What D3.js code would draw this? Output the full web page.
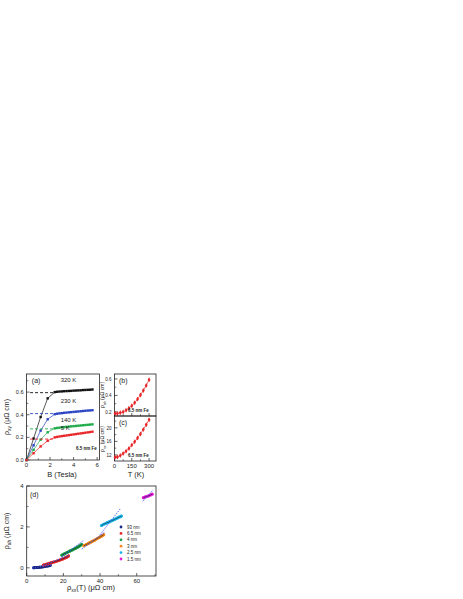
<!DOCTYPE html>
<html>
<head>
<meta charset="utf-8">
<script src="https://cdn.jsdelivr.net/npm/d3@7"></script>
<style>
  body { margin: 0; background: #fff; }
  svg text { font-family: "Liberation Sans", Arial, sans-serif; fill: #222; }
</style>
</head>
<body>
<div id="chart"></div>
<script>
// ---- panel (a): rho_xy vs B ----
var fieldB = [0, 0.6, 1.2, 1.8, 2.4, 2.6, 2.8, 3.0, 3.2, 3.4, 3.6, 3.8, 4.0, 4.2, 4.4, 4.6, 4.8, 5.0, 5.2, 5.4, 5.6];
var rho320 = [0, 0.19, 0.38, 0.545, 0.600, 0.603, 0.605, 0.606, 0.608, 0.609, 0.610, 0.611, 0.613, 0.614, 0.615, 0.616, 0.618, 0.619, 0.620, 0.621, 0.623];
var rho230 = [0, 0.13, 0.26, 0.36, 0.405, 0.409, 0.412, 0.414, 0.417, 0.419, 0.421, 0.423, 0.425, 0.427, 0.429, 0.431, 0.433, 0.435, 0.437, 0.438, 0.440];
var rho140 = [0, 0.09, 0.18, 0.245, 0.280, 0.283, 0.286, 0.288, 0.291, 0.293, 0.295, 0.297, 0.299, 0.301, 0.303, 0.305, 0.307, 0.309, 0.311, 0.313, 0.315];
var rho5 = [0, 0.06, 0.12, 0.17, 0.200, 0.204, 0.208, 0.211, 0.214, 0.217, 0.220, 0.223, 0.226, 0.229, 0.232, 0.235, 0.238, 0.241, 0.244, 0.247, 0.250];
var tempLabels = ["320 K", "230 K", "140 K", "5 K"];
var satLevels = [0.595, 0.41, 0.275, 0.185];

// ---- panels (b), (c): vs temperature ----
var tempT = [5, 25, 50, 75, 100, 125, 150, 175, 200, 225, 250, 275, 300];
var rhoAhT = [0.18, 0.18, 0.19, 0.20, 0.22, 0.245, 0.275, 0.31, 0.355, 0.405, 0.46, 0.52, 0.59];
var rhoXxT = [11.3, 11.4, 11.8, 12.4, 13.1, 13.9, 14.9, 15.9, 17.0, 18.2, 19.5, 20.9, 22.4];

// ---- panel (d): rho_ah vs rho_xx(T) ----
var thickness = ["93 nm", "6.5 nm", "4 nm", "3 nm", "2.5 nm", "1.5 nm"];
var pts93 = [[3.8, 0.00], [5, 0.01], [6, 0.02], [7, 0.03], [8, 0.04], [9, 0.055], [10, 0.07], [11, 0.085], [12, 0.10], [12.8, 0.12]];
var pts65 = [[9.2, 0.14], [10.5, 0.17], [12, 0.21], [13.5, 0.25], [15, 0.29], [16.5, 0.33], [18, 0.38], [19.5, 0.43], [21, 0.49], [22, 0.53], [22.8, 0.58]];
var pts4 = [[19.2, 0.62], [20.5, 0.68], [22, 0.75], [23.5, 0.82], [25, 0.88], [26.5, 0.95], [28, 1.02], [29, 1.08], [30, 1.14]];
var pts3 = [[31.2, 1.08], [32.5, 1.14], [34, 1.21], [35.5, 1.28], [37, 1.35], [38.5, 1.43], [40, 1.51], [41, 1.56], [42, 1.62]];
var pts25 = [[40.8, 2.07], [42, 2.13], [43.5, 2.19], [45, 2.25], [46.5, 2.31], [48, 2.37], [49.5, 2.44], [51, 2.50], [51.6, 2.53]];
var pts15 = [[63.6, 3.43], [64.5, 3.46], [65.5, 3.49], [66.5, 3.52], [67.5, 3.56], [68.4, 3.60]];
// dotted fit segments [x0, y0, x1, y1]
var fits = [[3, -0.02, 13.5, 0.14], [9, 0.12, 23.5, 0.62], [19, 0.55, 30.8, 1.32], [30, 0.92, 42.8, 1.76], [40, 1.62, 51, 2.88], [63.3, 3.25, 69, 3.82]];

var colorsA = ["#111111", "#2a44c4", "#1faa4a", "#e8262a"];
var colorsD = ["#1d2a8a", "#e8262a", "#1a9e48", "#f5861f", "#1ab4ea", "#e41ed8"];

var svg = d3.select("#chart").append("svg")
    .attr("width", 463)
    .attr("height", 599);

// draws the box with inward ticks
function frame(g, x, y, xMajor, xMinor, yMajor, yMinor, showX, yFmt, ySize) {
    var x0 = x.range()[0], x1 = x.range()[1], y0 = y.range()[0], y1 = y.range()[1];
    g.append("rect").attr("x", x0).attr("y", y1).attr("width", x1 - x0).attr("height", y0 - y1)
        .attr("fill", "none").attr("stroke", "#222").attr("stroke-width", 0.8);
    xMajor.forEach(function(v) {
        g.append("line").attr("x1", x(v)).attr("x2", x(v)).attr("y1", y0).attr("y2", y0 - 3).attr("stroke", "#222").attr("stroke-width", 0.7);
        if (showX) g.append("text").attr("x", x(v)).attr("y", y0 + 7).attr("text-anchor", "middle").attr("font-size", 6).text(v);
    });
    xMinor.forEach(function(v) {
        g.append("line").attr("x1", x(v)).attr("x2", x(v)).attr("y1", y0).attr("y2", y0 - 1.8).attr("stroke", "#222").attr("stroke-width", 0.6);
    });
    yMajor.forEach(function(v) {
        g.append("line").attr("x1", x0).attr("x2", x0 + 3).attr("y1", y(v)).attr("y2", y(v)).attr("stroke", "#222").attr("stroke-width", 0.7);
        g.append("text").attr("x", x0 - 3).attr("y", y(v) + 2).attr("text-anchor", "end").attr("font-size", ySize).text(yFmt ? yFmt(v) : v);
    });
    yMinor.forEach(function(v) {
        g.append("line").attr("x1", x0).attr("x2", x0 + 1.8).attr("y1", y(v)).attr("y2", y(v)).attr("stroke", "#222").attr("stroke-width", 0.6);
    });
}

// rotated y label like  rho_sub (μΩ cm)
function yLabel(g, cx, cy, sub, size) {
    var t = g.append("text").attr("transform", "translate(" + cx + "," + cy + ") rotate(-90)")
        .attr("text-anchor", "middle").attr("font-size", size);
    t.append("tspan").text("ρ");
    t.append("tspan").attr("font-size", size * 0.7).attr("dy", size * 0.3).text(sub);
    t.append("tspan").attr("dy", -size * 0.3).text(" (μΩ cm)");
}

// ---------- (a) ----------
var xA = d3.scaleLinear().domain([0, 6.2]).range([26.5, 99.5]);
var yA = d3.scaleLinear().domain([0, 0.76]).range([460, 374]);
var gA = svg.append("g");
frame(gA, xA, yA, [0, 2, 4, 6], [1, 3, 5], [0, 0.2, 0.4, 0.6], [0.1, 0.3, 0.5, 0.7], true, function(v) { return v.toFixed(1); }, 5.5);

var seriesA = [rho320, rho230, rho140, rho5];
var lineA = d3.line().x(function(d, i) { return xA(fieldB[i]); }).y(function(d) { return yA(d); });
seriesA.forEach(function(s, k) {
    gA.append("line").attr("x1", xA(0.3)).attr("x2", xA(2.3)).attr("y1", yA(satLevels[k])).attr("y2", yA(satLevels[k]))
        .attr("stroke", colorsA[k]).attr("stroke-width", 0.9).attr("stroke-dasharray", "3,2");
    gA.append("path").attr("d", lineA(s)).attr("fill", "none").attr("stroke", colorsA[k]).attr("stroke-width", 0.7);
    gA.selectAll(null).data(s).enter().append("rect")
        .attr("x", function(d, i) { return xA(fieldB[i]) - 1.2; })
        .attr("y", function(d) { return yA(d) - 1.2; })
        .attr("width", 2.4).attr("height", 2.4)
        .attr("fill", colorsA[k]);
});
var labelPos = [[2.9, 0.685], [2.9, 0.5], [2.9, 0.335], [2.9, 0.265]];
tempLabels.forEach(function(t, k) {
    gA.append("text").attr("x", xA(labelPos[k][0])).attr("y", yA(labelPos[k][1])).attr("font-size", 6).text(t);
});
gA.append("text").attr("x", xA(0.45)).attr("y", yA(0.68)).attr("font-size", 7).text("(a)");
gA.append("text").attr("x", xA(4.2)).attr("y", yA(0.09)).attr("font-size", 4.5).attr("font-weight", "bold").text("6.5 nm Fe");
gA.append("text").attr("x", 62).attr("y", 477).attr("text-anchor", "middle").attr("font-size", 7.5).text("B (Tesla)");
yLabel(gA, 9, 417, "xy", 7);

// ---------- (b), (c) ----------
var xT = d3.scaleLinear().domain([0, 360]).range([114.5, 156]);
var yB = d3.scaleLinear().domain([0.15, 0.66]).range([416, 374]);
var yC = d3.scaleLinear().domain([10.2, 23.5]).range([461, 416]);
var gB = svg.append("g"), gC = svg.append("g");
frame(gB, xT, yB, [0, 150, 300], [75, 225], [0.2, 0.4, 0.6], [0.3, 0.5], false, function(v) { return v.toFixed(1); }, 4.5);
frame(gC, xT, yC, [0, 150, 300], [75, 225], [12, 16, 20], [14, 18, 22], true, null, 4.5);

[[gB, yB, rhoAhT], [gC, yC, rhoXxT]].forEach(function(p) {
    var g = p[0], y = p[1], vals = p[2];
    g.append("path").attr("d", d3.line().x(function(d, i) { return xT(tempT[i]); }).y(function(d) { return y(d); })(vals))
        .attr("fill", "none").attr("stroke", "#e8262a").attr("stroke-width", 0.7);
    g.selectAll(null).data(vals).enter().append("path")
        .attr("d", d3.symbol().type(d3.symbolDiamond).size(7))
        .attr("transform", function(d, i) { return "translate(" + xT(tempT[i]) + "," + y(d) + ")"; })
        .attr("fill", "#e8262a");
    g.append("text").attr("x", 128).attr("y", y.range()[0] - 4).attr("font-size", 4.5).attr("font-weight", "bold").text("6.5 nm Fe");
});
gB.append("text").attr("x", 119).attr("y", 383).attr("font-size", 7).text("(b)");
gC.append("text").attr("x", 119).attr("y", 425).attr("font-size", 7).text("(c)");
yLabel(gB, 104, 395, "ah", 5);
yLabel(gC, 104, 439, "xx", 5);
gC.append("text").attr("x", 136).attr("y", 477).attr("text-anchor", "middle").attr("font-size", 7.5).text("T (K)");

// ---------- (d) ----------
var xD = d3.scaleLinear().domain([0, 70.5]).range([26.7, 156]);
var yD = d3.scaleLinear().domain([-0.4, 4.0]).range([576, 486]);
var gD = svg.append("g");
frame(gD, xD, yD, [0, 20, 40, 60], [10, 30, 50, 70], [0, 2, 4], [1, 3], true, null, 6);

var seriesD = [pts93, pts65, pts4, pts3, pts25, pts15];
var lineD = d3.line().x(function(d) { return xD(d[0]); }).y(function(d) { return yD(d[1]); });
seriesD.forEach(function(s, k) {
    gD.append("path").attr("d", lineD(s)).attr("fill", "none").attr("stroke", colorsD[k])
        .attr("stroke-width", 3).attr("stroke-linecap", "round");
    gD.selectAll(null).data(s).enter().append("circle")
        .attr("cx", function(d) { return xD(d[0]); })
        .attr("cy", function(d) { return yD(d[1]); })
        .attr("r", 1.5).attr("fill", colorsD[k]);
    gD.append("path").attr("d", lineD(s)).attr("fill", "none").attr("stroke", "#111").attr("stroke-width", 0.5);
});
fits.forEach(function(f) {
    gD.append("line").attr("x1", xD(f[0])).attr("y1", yD(f[1])).attr("x2", xD(f[2])).attr("y2", yD(f[3]))
        .attr("stroke", "#3a55ff").attr("stroke-width", 1).attr("stroke-dasharray", "1.3,1.3");
});
thickness.forEach(function(t, k) {
    var yy = 527 + k * 6.4;
    gD.append("circle").attr("cx", 121).attr("cy", yy).attr("r", 1.4).attr("fill", colorsD[k]);
    gD.append("text").attr("x", 127).attr("y", yy + 1.6).attr("font-size", 4.5).text(t);
});
gD.append("text").attr("x", 30).attr("y", 497).attr("font-size", 7).text("(d)");
yLabel(gD, 9, 531, "ah", 7);
var xl = gD.append("text").attr("x", 91).attr("y", 590).attr("text-anchor", "middle").attr("font-size", 7.5);
xl.append("tspan").text("ρ");
xl.append("tspan").attr("font-size", 5).attr("dy", 2).text("xx");
xl.append("tspan").attr("dy", -2).text("(T) (μΩ cm)");
</script>
</body>
</html>
